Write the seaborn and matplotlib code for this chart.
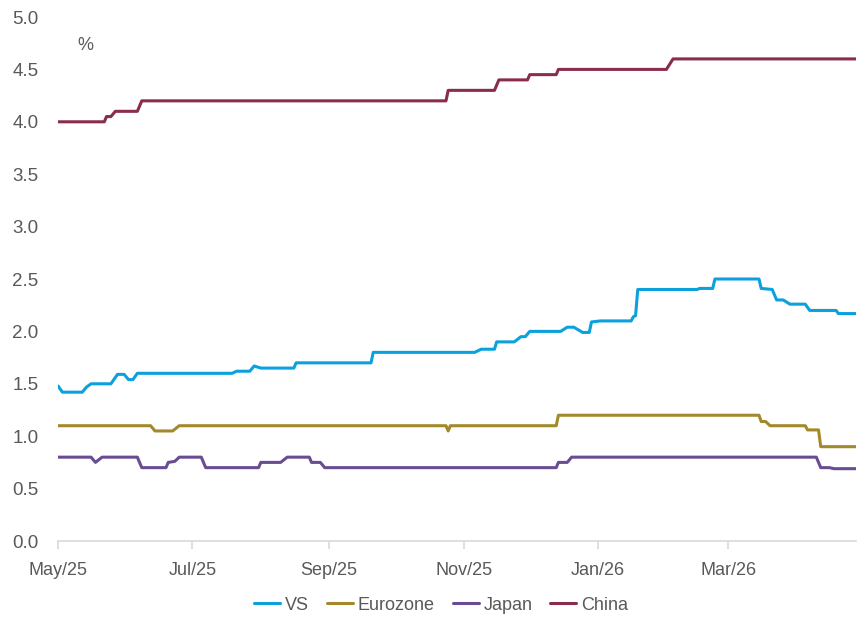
import matplotlib
matplotlib.use("Agg")
import matplotlib.pyplot as plt
import matplotlib.dates as mdates
import seaborn as sns
import pandas as pd

# ---- data (step series) ----
vs_dates = ["2025-05-01", "2025-05-03", "2025-05-12", "2025-05-14", "2025-05-16", "2025-05-25",
            "2025-05-28", "2025-05-31", "2025-06-02", "2025-06-04", "2025-06-06", "2025-07-19",
            "2025-07-21", "2025-07-27", "2025-07-29", "2025-08-01", "2025-08-16", "2025-08-17",
            "2025-09-20", "2025-09-21", "2025-11-06", "2025-11-09", "2025-11-15", "2025-11-16",
            "2025-11-24", "2025-11-27", "2025-11-29", "2025-12-01", "2025-12-15", "2025-12-18",
            "2025-12-21", "2025-12-25", "2025-12-28", "2025-12-29", "2026-01-02", "2026-01-16",
            "2026-01-17", "2026-01-18", "2026-01-19", "2026-02-15", "2026-02-16", "2026-02-22",
            "2026-02-23", "2026-03-15", "2026-03-16", "2026-03-21", "2026-03-23", "2026-03-26",
            "2026-03-29", "2026-04-05", "2026-04-07", "2026-04-19", "2026-04-20", "2026-04-28"]
vs_values = [1.48, 1.42, 1.42, 1.47, 1.50, 1.50,
             1.59, 1.59, 1.54, 1.54, 1.60, 1.60,
             1.62, 1.62, 1.67, 1.65, 1.65, 1.70,
             1.70, 1.80, 1.80, 1.83, 1.83, 1.90,
             1.90, 1.95, 1.95, 2.00, 2.00, 2.04,
             2.04, 1.99, 1.99, 2.09, 2.10, 2.10,
             2.14, 2.15, 2.40, 2.40, 2.41, 2.41,
             2.50, 2.50, 2.41, 2.40, 2.30, 2.30,
             2.26, 2.26, 2.20, 2.20, 2.17, 2.17]

ez_dates = ["2025-05-01", "2025-06-12", "2025-06-14", "2025-06-22", "2025-06-25", "2025-10-24",
            "2025-10-25", "2025-10-26", "2025-12-13", "2025-12-14", "2026-03-15", "2026-03-16",
            "2026-03-18", "2026-03-20", "2026-04-05", "2026-04-06", "2026-04-11", "2026-04-12",
            "2026-04-28"]
ez_values = [1.10, 1.10, 1.05, 1.05, 1.10, 1.10,
             1.05, 1.10, 1.10, 1.20, 1.20, 1.14,
             1.14, 1.10, 1.10, 1.06, 1.06, 0.90,
             0.90]

jp_dates = ["2025-05-01", "2025-05-16", "2025-05-18", "2025-05-21", "2025-06-06", "2025-06-08",
            "2025-06-19", "2025-06-20", "2025-06-23", "2025-06-25", "2025-07-05", "2025-07-07",
            "2025-07-31", "2025-08-01", "2025-08-10", "2025-08-13", "2025-08-23", "2025-08-24",
            "2025-08-28", "2025-08-30", "2025-12-13", "2025-12-14", "2025-12-18", "2025-12-20",
            "2026-04-10", "2026-04-12", "2026-04-16", "2026-04-18", "2026-04-28"]
jp_values = [0.80, 0.80, 0.75, 0.80, 0.80, 0.70,
             0.70, 0.75, 0.76, 0.80, 0.80, 0.70,
             0.70, 0.75, 0.75, 0.80, 0.80, 0.75,
             0.75, 0.70, 0.70, 0.75, 0.75, 0.80,
             0.80, 0.70, 0.70, 0.69, 0.69]

cn_dates = ["2025-05-01", "2025-05-22", "2025-05-23", "2025-05-25", "2025-05-27", "2025-06-06",
            "2025-06-08", "2025-10-24", "2025-10-25", "2025-11-15", "2025-11-17", "2025-11-30",
            "2025-12-01", "2025-12-13", "2025-12-14", "2026-02-01", "2026-02-04", "2026-04-28"]
cn_values = [4.00, 4.00, 4.05, 4.05, 4.10, 4.10,
             4.20, 4.20, 4.30, 4.30, 4.40, 4.40,
             4.45, 4.45, 4.50, 4.50, 4.60, 4.60]

series_names = ["VS", "Eurozone", "Japan", "China"]
series_colors = ["#0BA1DD", "#A3892B", "#6A4C93", "#8A2D4A"]
y_ticks = [0.0, 0.5, 1.0, 1.5, 2.0, 2.5, 3.0, 3.5, 4.0, 4.5, 5.0]
unit_label = "%"

frames = []
for name, d, v in zip(series_names,
                      [vs_dates, ez_dates, jp_dates, cn_dates],
                      [vs_values, ez_values, jp_values, cn_values]):
    frames.append(pd.DataFrame({"date": pd.to_datetime(d), "value": v, "series": name}))
df = pd.concat(frames, ignore_index=True)

# ---- plot ----
sns.set_theme(style="white")
plt.rcParams["font.family"] = ["Liberation Sans", "DejaVu Sans"]
text_color = "#595959"

fig = plt.figure(figsize=(8.57, 6.17), dpi=100)
ax = fig.add_axes([58 / 857, 1 - 541 / 617, (856 - 58) / 857, (541 - 17) / 617])

sns.lineplot(data=df, x="date", y="value", hue="series", hue_order=series_names,
             palette=dict(zip(series_names, series_colors)), estimator=None,
             linewidth=2.2, ax=ax, legend=False)

ax.set_ylim(0, 5)
ax.set_yticks(y_ticks)
ax.set_yticklabels([f"{t:.1f}" for t in y_ticks])
ax.set_xlim(pd.Timestamp("2025-05-01"), pd.Timestamp("2025-05-01") + pd.Timedelta(days=362))
ax.xaxis.set_major_locator(mdates.MonthLocator(bymonth=[1, 3, 5, 7, 9, 11]))
ax.xaxis.set_major_formatter(mdates.DateFormatter("%b/%y"))
ax.set_xlabel("")
ax.set_ylabel("")

for side in ["top", "right", "left"]:
    ax.spines[side].set_visible(False)
ax.spines["bottom"].set_color("#D9D9D9")
ax.spines["bottom"].set_linewidth(1.2)

ax.tick_params(axis="x", direction="out", length=6, width=1.2, color="#D9D9D9",
               pad=9, labelsize=13, labelcolor=text_color, bottom=True)
ax.tick_params(axis="y", length=0, pad=14, labelsize=13.5, labelcolor=text_color)
ax.grid(False)

fig.text(85 / 857, 1 - 45 / 617, unit_label, fontsize=13, color=text_color,
         ha="center", va="center")

handles = [plt.Line2D([0], [0], color=c, lw=2.2) for c in series_colors]
fig.legend(handles, series_names, loc="center", bbox_to_anchor=(441 / 857, 1 - 605 / 617),
           ncol=4, frameon=False, fontsize=13, handlelength=1.45, handletextpad=0.25,
           columnspacing=1.0, labelcolor=text_color)

fig.savefig("out.png", dpi=100)
